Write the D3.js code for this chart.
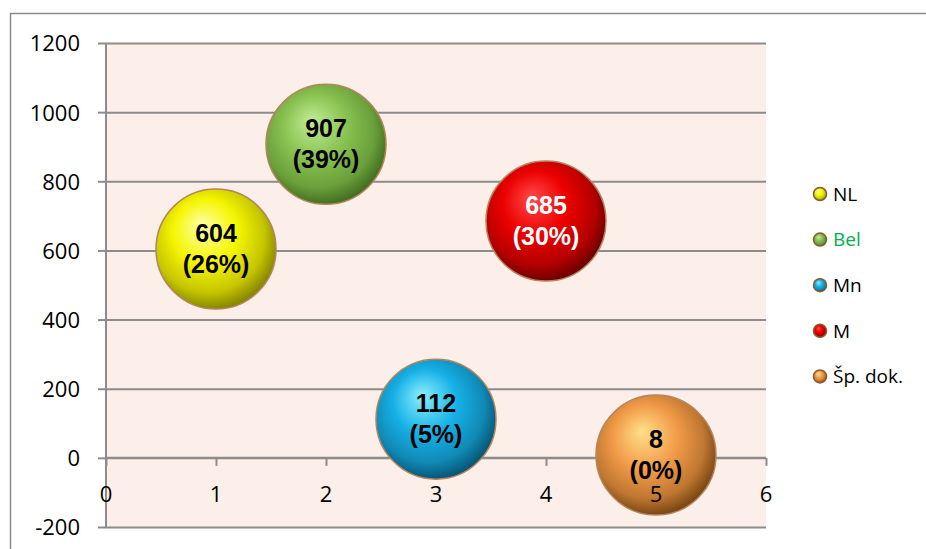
<!DOCTYPE html>
<html>
<head>
<meta charset="utf-8">
<script src="https://cdn.jsdelivr.net/npm/d3@7"></script>
<style>
  html, body { margin: 0; padding: 0; background: #fff; }
  svg { display: block; font-family: "Open Sans", "Liberation Sans", sans-serif; }
</style>
</head>
<body>
<div id="chart"></div>
<script>
// Series data
const seriesNames = ['NL', 'Bel', 'Mn', 'M', 'Šp. dok.'];
const xValues = [1, 2, 3, 4, 5];
const yValues = [604, 907, 112, 685, 8];
const bubbleSizes = [1, 1, 1, 1, 1];
const percentLabels = ['26%', '39%', '5%', '30%', '0%'];
const yTicks = [-200, 0, 200, 400, 600, 800, 1000, 1200];
const xTicks = [0, 1, 2, 3, 4, 5, 6];

// colours: [highlight, base, dark]
const palette = [
    ['#FFFFA8', '#F5F500', '#7E7E00'],
    ['#C2EC95', '#88C250', '#3C6A1C'],
    ['#8AF0FF', '#16B0E6', '#064F6C'],
    ['#FF4A4A', '#EC0000', '#640000'],
    ['#FFE08A', '#F29B48', '#72400E']
];
const labelColors = ['#000', '#000', '#000', '#fff', '#000'];
const legendTextColors = ['#000', '#00B050', '#000', '#000', '#000'];

const W = 926, H = 549;
const plot = { left: 106, right: 766, top: 43, bottom: 527 };
const fmt = d => String(d); // plain numbers, ascii minus

const svg = d3.select('#chart').append('svg')
    .attr('width', W)
    .attr('height', H);

const defs = svg.append('defs');
palette.forEach((c, i) => {
    const g = defs.append('radialGradient')
        .attr('id', 'ball' + i)
        .attr('cx', '45%').attr('cy', '42%').attr('r', '60%')
        .attr('fx', '38%').attr('fy', '30%');
    g.append('stop').attr('offset', '0%').attr('stop-color', c[0]);
    g.append('stop').attr('offset', '45%').attr('stop-color', c[1]);
    g.append('stop').attr('offset', '78%').attr('stop-color', d3.interpolateRgb(c[1], c[2])(0.4));
    g.append('stop').attr('offset', '100%').attr('stop-color', c[2]);
});

// outer chart border
svg.append('path')
    .attr('d', `M10.5,${H} V13.5 H${W}`)
    .attr('fill', 'none')
    .attr('stroke', '#8a8a8a')
    .attr('stroke-width', 1.5);

const x = d3.scaleLinear().domain([0, 6]).range([plot.left, plot.right]);
const y = d3.scaleLinear().domain([-200, 1200]).range([plot.bottom, plot.top]);
const r = d3.scaleSqrt().domain([0, d3.max(bubbleSizes)]).range([0, 60]);

// plot background
svg.append('rect')
    .attr('x', plot.left).attr('y', plot.top)
    .attr('width', plot.right - plot.left)
    .attr('height', plot.bottom - plot.top)
    .attr('fill', '#FCEEE9');

// y axis with gridlines
const yAxis = svg.append('g')
    .attr('transform', `translate(${plot.left},0)`)
    .call(d3.axisLeft(y).tickValues(yTicks).tickFormat(fmt).tickSize(8).tickPadding(18));
yAxis.select('.domain').remove();
yAxis.selectAll('.tick line')
    .attr('x2', -8)
    .attr('stroke', '#8c8c8c').attr('stroke-width', 2);
yAxis.selectAll('.tick').append('line')
    .attr('x1', 0).attr('x2', plot.right - plot.left)
    .attr('stroke', '#8c8c8c').attr('stroke-width', 2);
yAxis.selectAll('.tick text')
    .attr('fill', '#000')
    .attr('font-size', 22)
    .attr('dy', '0.36em')
    .attr('font-family', '"Open Sans", sans-serif');

// vertical axis line
svg.append('line')
    .attr('x1', plot.left).attr('x2', plot.left)
    .attr('y1', plot.top).attr('y2', plot.bottom)
    .attr('stroke', '#8c8c8c').attr('stroke-width', 2);

// x axis at y = 0
const xAxis = svg.append('g')
    .attr('transform', `translate(0,${y(0)})`)
    .call(d3.axisBottom(x).tickValues(xTicks).tickSize(8).tickPadding(16));
xAxis.select('.domain')
    .attr('d', `M${plot.left},0H${plot.right}`)
    .attr('stroke', '#8c8c8c').attr('stroke-width', 2);
xAxis.selectAll('.tick line').attr('stroke', '#8c8c8c').attr('stroke-width', 2);
xAxis.selectAll('.tick text').remove();

// bubbles
const bubbles = svg.append('g').selectAll('g')
    .data(seriesNames.map((n, i) => ({ name: n, i, x: xValues[i], y: yValues[i], s: bubbleSizes[i], pct: percentLabels[i] })))
    .join('g')
    .attr('transform', d => `translate(${x(d.x)},${y(d.y)})`);

bubbles.append('circle')
    .attr('r', d => r(d.s))
    .attr('fill', d => `url(#ball${d.i})`)
    .attr('stroke', '#B7845A')
    .attr('stroke-width', 1.5);

// x tick labels drawn above the bubbles (as in the original)
svg.append('g').selectAll('text')
    .data(xTicks)
    .join('text')
    .attr('x', d => x(d))
    .attr('y', y(0) + 44)
    .attr('text-anchor', 'middle')
    .attr('font-size', 22)
    .attr('fill', '#000')
    .text(fmt);

// data labels
bubbles.append('text')
    .attr('y', -7)
    .attr('text-anchor', 'middle')
    .attr('font-family', '"Liberation Sans", Arial, sans-serif')
    .attr('font-weight', 'bold')
    .attr('font-size', 25)
    .attr('fill', d => labelColors[d.i])
    .text(d => d.y);
bubbles.append('text')
    .attr('y', 24)
    .attr('text-anchor', 'middle')
    .attr('font-family', '"Liberation Sans", Arial, sans-serif')
    .attr('font-weight', 'bold')
    .attr('font-size', 25)
    .attr('fill', d => labelColors[d.i])
    .text(d => `(${d.pct})`);

// legend
const legend = svg.append('g').selectAll('g')
    .data(seriesNames)
    .join('g')
    .attr('transform', (d, i) => `translate(820,${194 + i * 45.6})`);
legend.append('circle')
    .attr('r', 6.5)
    .attr('fill', (d, i) => `url(#ball${i})`)
    .attr('stroke', '#8a5a30')
    .attr('stroke-width', 1.5);
legend.append('text')
    .attr('x', 13)
    .attr('dy', '0.36em')
    .attr('font-size', 19)
    .attr('fill', (d, i) => legendTextColors[i])
    .text(d => d);
</script>
</body>
</html>
